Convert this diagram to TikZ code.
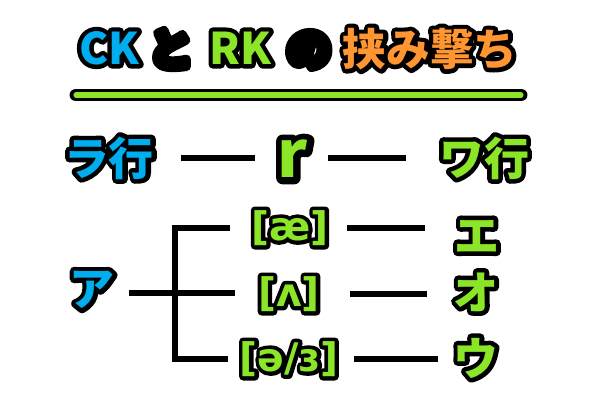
\documentclass[tikz,border=0pt]{standalone}
\usepackage{fontspec}
\usepackage{xcolor}
\usetikzlibrary{positioning}
\newfontfamily\jpfont{Noto Sans CJK JP}
\newfontfamily\ipafont{DejaVu Sans}
\definecolor{ckblue}{RGB}{0,174,239}
\definecolor{rkgreen}{RGB}{140,230,40}
\definecolor{hsorange}{RGB}{255,150,50}
% black stroked copy underneath, coloured fill on top
\newcommand\outl[2]{\rlap{\color{black}\addfontfeatures{FakeBold=20}#2}\textcolor{#1}{#2}}

\begin{document}
\begin{tikzpicture}[x=0.025cm, y=-0.025cm,
    lbl/.style={inner sep=0pt, line join=round, font=\jpfont\bfseries\fontsize{32}{32}\selectfont},
    ttl/.style={lbl, font=\jpfont\bfseries\fontsize{31}{31}\selectfont},
    ipa/.style={inner sep=0pt, line join=round, font=\ipafont\bfseries\fontsize{28}{28}\selectfont},
    bar/.style={line width=4.8pt, line cap=butt, draw=black}]
        \useasboundingbox (0,0) rectangle (600,400);
        % title
        \node[ttl] (ck) at (109,48) {\outl{ckblue}{CK}};
        \node[ttl] (to) at (171,49) {\outl{black}{と}};
        \node[ttl] (rk) at (240,48) {\outl{rkgreen}{RK}};
        \node[ttl] (no) at (309,50) {\outl{black}{の}};
        \node[ttl] (hasami) at (430,49) {\outl{hsorange}{挟み撃ち}};
        \coordinate (ul1) at (76,95);
        \coordinate (ul2) at (521,95);
        \draw[line width=9.2pt, line cap=round] (ul1) -- (ul2);
        \draw[line width=3.6pt, line cap=round, rkgreen] (ul1) -- (ul2);
        % r row
        \node[lbl] (ra) at (109,158) {\outl{ckblue}{ラ行}};
        \node[lbl, font=\jpfont\bfseries\fontsize{46}{46}\selectfont] (r) at (293,159) {\outl{rkgreen}{r}};
        \node[lbl] (wa) at (484,158) {\outl{rkgreen}{ワ行}};
        \draw[bar, shorten <=19pt, shorten >=16pt] (ra.east) -- (ra.east -| r.west);
        \draw[bar, shorten <=14pt, shorten >=23pt] (ra.east -| r.east) -- (ra.east -| wa.west);
        % a row
        \node[lbl] (a) at (92,290) {\outl{ckblue}{ア}};
        \node[ipa] (ae) at (290,228) {\outl{rkgreen}{[æ]}};
        \node[ipa] (lam) at (289,294) {\outl{rkgreen}{[ʌ]}};
        \node[ipa] (schwa) at (289,359) {\outl{rkgreen}{[ə/ɜ]}};
        \node[lbl] (e) at (477,236) {\outl{rkgreen}{エ}};
        \node[lbl] (o) at (476,292) {\outl{rkgreen}{オ}};
        \node[lbl] (u) at (476,358) {\outl{rkgreen}{ウ}};
        \coordinate (fork) at (175,293);
        \draw[bar, shorten <=10pt, shorten >=16pt] (fork -| a.east) -- (fork -| lam.west);
        \draw[bar] ([xshift=-15pt]ae.west) -| (fork) |- ([xshift=-8.5pt]schwa.west);
        \draw[bar, shorten <=13pt, shorten >=21pt] (ae.east) -- (ae.east -| e.west);
        \draw[bar, shorten <=21pt, shorten >=19pt] (lam.east) -- (lam.east -| o.west);
        \draw[bar, shorten <=11pt, shorten >=11pt] (schwa.east) -- (schwa.east -| u.west);
\end{tikzpicture}
\end{document}
